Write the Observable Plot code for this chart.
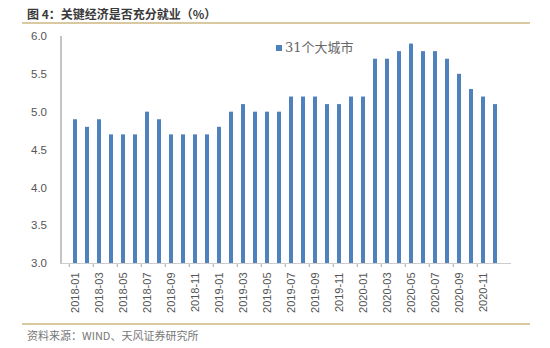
<!DOCTYPE html>
<html><head><meta charset="utf-8">
<script src="https://cdn.jsdelivr.net/npm/d3@7"></script>
<script src="https://cdn.jsdelivr.net/npm/@observablehq/plot@0.6"></script>
<style>
body{margin:0;background:#fff;}
#wrap{position:relative;width:550px;height:348px;font-family:"Noto Sans CJK SC",sans-serif;overflow:hidden}
#title{position:absolute;left:22px;top:0;width:508px;height:24px;border-bottom:2px solid #d8c9a0;font-size:12px;font-weight:bold;color:#3a3a3a;line-height:27px;padding-left:5px;box-sizing:border-box}
#chart{position:absolute;left:0;top:25px}
#foot{position:absolute;left:22px;top:323px;width:508px;border-top:2px solid #d8c9a0}
#caption{position:absolute;left:27px;top:327px;font-size:11px;color:#777;line-height:16px}
#legend{position:absolute;left:276px;top:39px;font-size:13px;color:#666;display:flex;align-items:center;line-height:18px;font-family:"DejaVu Serif","Noto Sans CJK SC",serif}
#legend span.sw{display:inline-block;width:6px;height:6px;background:#4f81bd;margin-right:3px}
</style></head>
<body><div id="wrap">
<div id="title">图 4：关键经济是否充分就业（%）</div>
<div id="chart"></div>
<div id="legend"><span class="sw"></span>31个大城市</div>
<div id="foot"></div>
<div id="caption">资料来源：WIND、天风证券研究所</div>
</div>
<script>
const months = ["2018-01","2018-02","2018-03","2018-04","2018-05","2018-06","2018-07","2018-08","2018-09","2018-10","2018-11","2018-12",
"2019-01","2019-02","2019-03","2019-04","2019-05","2019-06","2019-07","2019-08","2019-09","2019-10","2019-11","2019-12",
"2020-01","2020-02","2020-03","2020-04","2020-05","2020-06","2020-07","2020-08","2020-09","2020-10","2020-11","2020-12"];
const values = [4.9,4.8,4.9,4.7,4.7,4.7,5.0,4.9,4.7,4.7,4.7,4.7,
4.8,5.0,5.1,5.0,5.0,5.0,5.2,5.2,5.2,5.1,5.1,5.2,
5.2,5.7,5.7,5.8,5.9,5.8,5.8,5.7,5.5,5.3,5.2,5.1];
const yTicks = [3.0,3.5,4.0,4.5,5.0,5.5,6.0];
const labelMonths = months.filter((m,i)=>i%2===0);
const data = months.map((m,i)=>({month:m, value:values[i]}));
const step = (550-60.5-40)/months.length;
const chart = Plot.plot({
  width:550, height:299,
  marginLeft:60.5, marginRight:40, marginTop:11, marginBottom:61,
  style:{fontFamily:"Liberation Sans, Arial, sans-serif", color:"#555", background:"transparent"},
  x:{type:"band", domain:months, padding:0.68, label:null},
  y:{domain:[3,6], label:null},
  marks:[
    Plot.barY(data,{x:"month", y1:()=>3, y2:"value", fill:"#4f81bd"}),
    Plot.axisY({ticks:yTicks, tickFormat:d3.format(".1f"), tickSize:0, tickPadding:14, fontSize:11.5, label:null}),
    Plot.axisX({ticks:labelMonths, tickSize:0, tickPadding:9, tickRotate:-90, fontSize:11, label:null}),
    Plot.axisX({ticks:labelMonths, tickFormat:null, tickSize:4, dx:-step/2, stroke:"#aaa", label:null}),
    Plot.frame({anchor:"left", stroke:"#888"}),
    Plot.frame({anchor:"bottom", stroke:"#ccc"})
  ]
});
document.getElementById("chart").appendChild(chart);
</script>
</body></html>
